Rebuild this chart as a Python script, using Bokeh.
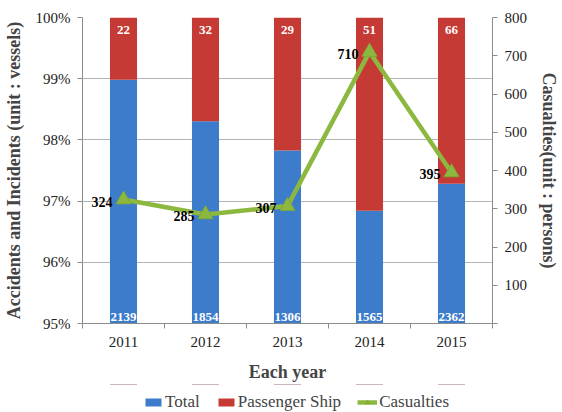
from bokeh.plotting import figure
from bokeh.layouts import column
from bokeh.models import (Range1d, LinearAxis, FixedTicker, CustomJSTickFormatter,
                          ColumnDataSource, Legend, LegendItem, LabelSet)
from bokeh.core.properties import value
from bokeh.embed import file_html
from bokeh.resources import INLINE

years = ["2011", "2012", "2013", "2014", "2015"]
total = [2139, 1854, 1306, 1565, 2362]
passenger = [22, 32, 29, 51, 66]
casualties = [324, 285, 307, 710, 395]
pct_ticks = [95, 96, 97, 98, 99, 100]
cas_ticks = [0, 100, 200, 300, 400, 500, 600, 700, 800]
series_names = ["Total", "Passenger Ship", "Casualties"]

FONT = "Liberation Serif"
BLUE = "#3d7bcb"
RED = "#c63a35"
GREEN = "#8db83f"

xs = list(range(1, len(years) + 1))
total_pct = [t / (t + p) * 100 for t, p in zip(total, passenger)]

src = ColumnDataSource(dict(
    x=xs, year=years, total=total, passenger=passenger, cas=casualties,
    tp=total_pct, base=[pct_ticks[0]] * len(xs), top=[pct_ticks[-1]] * len(xs),
    total_s=[str(v) for v in total], pass_s=[str(v) for v in passenger],
    cas_s=[str(v) for v in casualties],
))

p = figure(width=562, height=384, output_backend="svg", toolbar_location=None,
           x_range=Range1d(0.5, len(xs) + 0.5),
           y_range=Range1d(pct_ticks[0], pct_ticks[-1]),
           min_border_left=82, min_border_right=69, min_border_top=17,
           min_border_bottom=59)
p.outline_line_color = None
p.background_fill_color = "white"
p.border_fill_color = "white"

p.extra_y_ranges = {"cas": Range1d(cas_ticks[0], cas_ticks[-1])}

# bars
r_total = p.vbar(x="x", bottom="base", top="tp", width=0.33, source=src,
                 fill_color=BLUE, line_color=None)
r_pass = p.vbar(x="x", bottom="tp", top="top", width=0.33, source=src,
                fill_color=RED, line_color=None)

# casualties line
r_line = p.line(x="x", y="cas", source=src, y_range_name="cas",
                line_color=GREEN, line_width=4.5)
r_mark = p.scatter(x="x", y="cas", source=src, y_range_name="cas",
                   marker="triangle", size=15, fill_color=GREEN,
                   line_color="#7fa838")

# labels
p.add_layout(LabelSet(x="x", y="base", text="total_s", source=src,
                      text_align="center", text_baseline="bottom", y_offset=3,
                      text_color="white", text_font=value(FONT),
                      text_font_style="bold", text_font_size="13px"))
p.add_layout(LabelSet(x="x", y="top", text="pass_s", source=src,
                      text_align="center", text_baseline="top", y_offset=-8,
                      text_color="white", text_font=value(FONT),
                      text_font_style="bold", text_font_size="13px"))
p.add_layout(LabelSet(x="x", y="cas", text="cas_s", source=src,
                      y_range_name="cas", text_align="right",
                      text_baseline="middle", x_offset=-11, y_offset=-2,
                      text_color="black", text_font=value(FONT),
                      text_font_style="bold", text_font_size="14px"))

# axes
ax = p.xaxis[0]
ax.ticker = FixedTicker(ticks=xs, minor_ticks=[x - 0.5 for x in xs] + [xs[-1] + 0.5])
ax.major_label_overrides = {x: y for x, y in zip(xs, years)}
ax.major_tick_line_color = None
ax.major_tick_in = 0
ax.major_tick_out = 0
ax.minor_tick_in = 0
ax.minor_tick_out = 5
ax.minor_tick_line_color = "#8c8c8c"
ax.axis_line_color = "#8c8c8c"
ax.major_label_standoff = 8
ax.major_label_text_font = FONT
ax.major_label_text_font_size = "15px"
ax.major_label_text_color = "#222222"
ax.axis_label = "Each year"
ax.axis_label_text_font = FONT
ax.axis_label_text_font_style = "bold"
ax.axis_label_text_font_size = "18px"
ax.axis_label_standoff = 12

ly = p.yaxis[0]
ly.ticker = FixedTicker(ticks=pct_ticks)
ly.formatter = CustomJSTickFormatter(code="return tick.toFixed(0) + '%';")
ly.minor_tick_line_color = None
ly.major_tick_in = 0
ly.major_tick_out = 5
ly.major_tick_line_color = "#8c8c8c"
ly.axis_line_color = "#8c8c8c"
ly.major_label_text_font = FONT
ly.major_label_text_font_size = "15px"
ly.major_label_text_color = "#222222"
ly.major_label_standoff = 7
ly.axis_label = "Accidents and Incidents (unit : vessels)"
ly.axis_label_text_font = FONT
ly.axis_label_text_font_style = "bold"
ly.axis_label_text_font_size = "18px"
ly.axis_label_standoff = 9

ry = LinearAxis(y_range_name="cas",
                ticker=FixedTicker(ticks=cas_ticks),
                formatter=CustomJSTickFormatter(code="return tick == 0 ? '' : tick.toFixed(0);"))
ry.minor_tick_line_color = None
ry.major_tick_in = 0
ry.major_tick_out = 5
ry.major_tick_line_color = "#8c8c8c"
ry.axis_line_color = "#8c8c8c"
ry.major_label_text_font = FONT
ry.major_label_text_font_size = "15px"
ry.major_label_text_color = "#222222"
ry.major_label_standoff = 7
ry.axis_label = "Casualties(unit : persons)"
ry.axis_label_text_font = FONT
ry.axis_label_text_font_style = "bold"
ry.axis_label_text_font_size = "18px"
ry.axis_label_standoff = 9
p.add_layout(ry, "right")

p.xgrid.grid_line_color = None
p.ygrid.ticker = FixedTicker(ticks=pct_ticks)
p.ygrid.grid_line_color = "#b4b4b4"
p.ygrid.grid_line_width = 1

# legend strip below the chart: same series and styles, drawn out of view
lg = figure(width=562, height=28, output_backend="svg", toolbar_location=None,
            x_axis_type=None, y_axis_type=None,
            x_range=p.x_range, y_range=Range1d(-2, -1),
            min_border_left=0, min_border_right=0, min_border_top=0,
            min_border_bottom=0)
lg.outline_line_color = None
lg.background_fill_color = "white"
lg.border_fill_color = "white"
lg.grid.grid_line_color = None
lg.extra_y_ranges = {"cas": Range1d(-2, -1)}
lg_total = lg.vbar(x="x", bottom="base", top="tp", width=0.33, source=src,
                   fill_color=BLUE, line_color=None)
lg_pass = lg.vbar(x="x", bottom="tp", top="top", width=0.33, source=src,
                  fill_color=RED, line_color=None)
lg_line = lg.line(x="x", y="cas", source=src, y_range_name="cas",
                  line_color=GREEN, line_width=4.5)
lg_mark = lg.scatter(x="x", y="cas", source=src, y_range_name="cas",
                     marker="triangle", size=13, fill_color=GREEN,
                     line_color="#7fa838")

legend = Legend(items=[
    LegendItem(label=series_names[0], renderers=[lg_total]),
    LegendItem(label=series_names[1], renderers=[lg_pass]),
    LegendItem(label=series_names[2], renderers=[lg_line, lg_mark]),
], orientation="horizontal", location=(61, 0))
legend.label_text_font = FONT
legend.label_text_font_size = "17px"
legend.label_height = 17
legend.label_standoff = 2
legend.glyph_width = 20
legend.glyph_height = 10
legend.spacing = 16
legend.padding = 0
legend.margin = 0
legend.border_line_color = None
legend.background_fill_alpha = 0
lg.add_layout(legend, "center")

layout = column(p, lg, spacing=0)
open("out.html", "w").write(file_html(layout, INLINE))
